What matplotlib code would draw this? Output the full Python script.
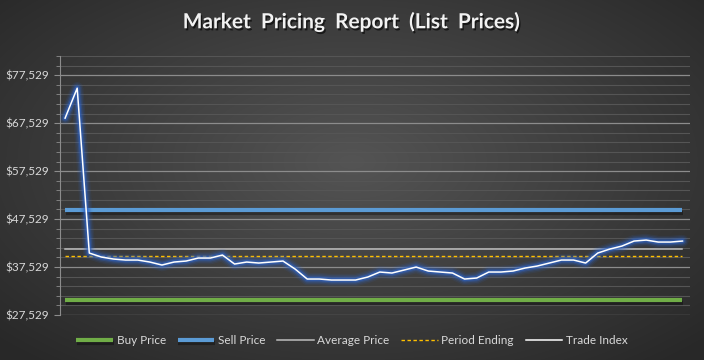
import numpy as np
import matplotlib
matplotlib.use("Agg")
import matplotlib.pyplot as plt
import matplotlib.patheffects as pe
from matplotlib.ticker import MultipleLocator, FuncFormatter

## Data
trade_index = [
    68570, 74821, 40446, 39612, 39196, 38987, 38987, 38571, 37946, 38571,
    38779, 39404, 39404, 40029, 38154, 38571, 38362, 38571, 38779, 37112,
    35029, 35029, 34821, 34821, 34821, 35446, 36487, 36279, 36904, 37529,
    36696, 36487, 36279, 35029, 35237, 36487, 36487, 36696, 37321, 37737,
    38362, 38987, 38987, 38362, 40446, 41279, 41904, 42946, 43154, 42737,
    42737, 42946,
]
buy_price = 30654
sell_price = 49466
average_price = 41216
period_ending = 39758

y_min, y_max = 27529, 81529
n = len(trade_index)
x = np.arange(n)

## Figure + background gradient
fig = plt.figure(figsize=(7.04, 3.60), dpi=100)
bg = fig.add_axes([0, 0, 1, 1], zorder=-1)
gx, gy = np.meshgrid(np.linspace(-1, 1, 704), np.linspace(-1, 1, 360))
r = np.sqrt((gx * 0.95) ** 2 + ((gy + 0.1) * 0.9) ** 2)
shade = 0.33 - 0.17 * np.clip(r, 0, 1.3) / 1.3
bg.imshow(np.dstack([shade] * 3), aspect="auto", extent=[0, 1, 0, 1])
bg.axis("off")

ax = fig.add_axes([60 / 704, 45 / 360, 630 / 704, 259 / 360])
ax.set_facecolor("none")

## Reference lines
shadow = [pe.SimpleLineShadow(offset=(0.5, -2), shadow_color="black", alpha=0.35), pe.Normal()]
ax.plot([x[0], x[-1]], [buy_price] * 2, color="#70ad47", lw=3.0,
        label="Buy Price", solid_capstyle="butt", path_effects=shadow, zorder=3)
ax.plot([x[0], x[-1]], [sell_price] * 2, color="#5b9bd5", lw=3.0,
        label="Sell Price", solid_capstyle="butt", path_effects=shadow, zorder=3)
ax.plot([x[0], x[-1]], [average_price] * 2, color="#bfbfbf", lw=1.1,
        label="Average Price", zorder=3)
ax.plot([x[0], x[-1]], [period_ending] * 2, color="#ffc000", lw=1.0,
        ls=(0, (2.5, 1.8)), label="Period Ending", zorder=3)

# glow under trade index
for lw, a in [(9, 0.1), (7, 0.16), (5, 0.3), (3.2, 0.55)]:
    ax.plot(x, trade_index, color="#2f63c4", lw=lw, alpha=a,
            solid_joinstyle="round", solid_capstyle="round", zorder=4)
ax.plot(x, trade_index, color="white", lw=1.1, label="Trade Index", zorder=5)

## Axes styling
ax.set_xlim(-0.42, n - 1 + 0.62)
ax.set_ylim(y_min, y_max)
ax.yaxis.set_major_locator(MultipleLocator(10000, offset=y_min))
ax.yaxis.set_minor_locator(MultipleLocator(2000, offset=y_min))
ax.yaxis.set_major_formatter(FuncFormatter(lambda v, p: f"${v:,.0f}"))
ax.grid(which="major", axis="y", color="#8c8c8c", lw=0.9)
ax.grid(which="minor", axis="y", color="#555555", lw=0.8)
ax.set_axisbelow(True)
ax.set_xticks([])
for s in ["top", "right", "bottom"]:
    ax.spines[s].set_visible(False)
ax.spines["left"].set_color("#8c8c8c")
ax.tick_params(axis="y", which="major", colors="#8c8c8c", length=4,
               labelcolor="#d9d9d9", labelsize=8.5, pad=4)
ax.tick_params(axis="y", which="minor", colors="#8c8c8c", length=3)
for t in ax.get_yticklabels():
    t.set_fontfamily("Lato")

## Title
fig.text(0.5, 1 - 22 / 360, "Market  Pricing  Report  (List  Prices)",
         ha="center", va="center", color="#f2f2f2", fontsize=15,
         fontweight="bold", family="Lato",
         path_effects=[pe.withSimplePatchShadow(offset=(1, -1.5),
                                                shadow_rgbFace="black", alpha=0.6)])

## Legend
leg = fig.legend(loc="center", bbox_to_anchor=(0.5, 1 - 341 / 360), ncol=5,
                 frameon=False, handlelength=3.1, handletextpad=0.3,
                 columnspacing=1.0, prop={"family": "Lato", "size": 8.5})
for t in leg.get_texts():
    t.set_color("#d9d9d9")

fig.savefig("out.png", dpi=100)
